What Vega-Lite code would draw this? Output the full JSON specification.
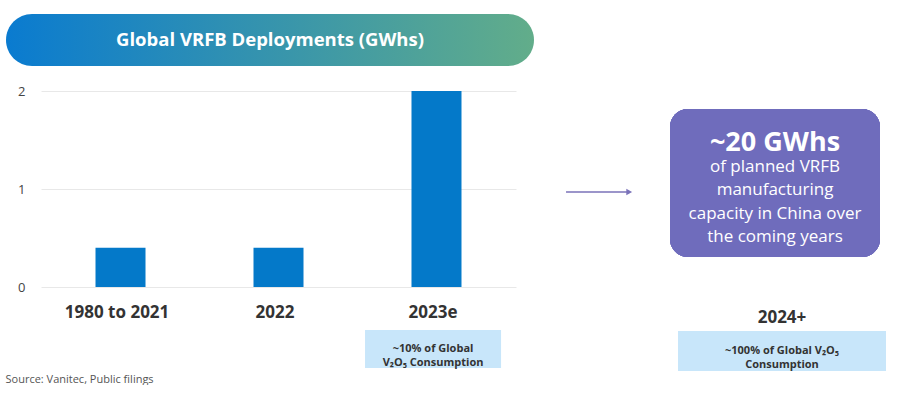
{
  "$schema": "https://vega.github.io/schema/vega-lite/v6.json",
  "padding": {"left": 5, "top": 14, "right": 0, "bottom": 0},
  "background": "white",
  "config": {"view": {"stroke": null}, "font": "Open Sans"},
  "title": {"text": "Source: Vanitec, Public filings", "orient": "bottom", "anchor": "start", "fontSize": 11, "fontWeight": "normal", "color": "#555555", "offset": 3},
  "spacing": 19,
  "vconcat": [
    {
      "width": 528,
      "height": 52,
      "data": {"values": [{"label": "Global VRFB Deployments (GWhs)"}]},
      "layer": [
        {
          "mark": {"type": "rect", "cornerRadius": 26, "color": {"gradient": "linear", "x1": 0, "y1": 0, "x2": 1, "y2": 0, "stops": [{"offset": 0, "color": "#0a7bd0"}, {"offset": 1, "color": "#62ad8a"}]}},
          "encoding": {}
        },
        {
          "mark": {"type": "text", "color": "white", "fontSize": 18.5, "fontWeight": "bold"},
          "encoding": {"text": {"field": "label"}}
        }
      ]
    },
    {
      "spacing": 0,
      "hconcat": [
        {
          "width": 1,
          "height": 1,
          "data": {"values": [{"kind": "spacer"}]},
          "mark": {"type": "rule", "opacity": 0},
          "encoding": {}
        },
        {
          "spacing": 9,
          "vconcat": [
            {
              "width": 475,
              "height": 196,
              "data": {"values": [
                {"period": "1980 to 2021", "gwh": 0.4},
                {"period": "2022", "gwh": 0.4},
                {"period": "2023e", "gwh": 2.0}
              ]},
              "mark": {"type": "bar", "color": "#0479c9"},
              "encoding": {
                "x": {"field": "period", "type": "nominal", "sort": null, "scale": {"paddingInner": 0.6835, "paddingOuter": 0.345}, "axis": null},
                "y": {"field": "gwh", "type": "quantitative", "scale": {"domain": [0, 2], "nice": false}, "axis": {"title": null, "tickCount": 2, "format": ".0f", "domain": false, "ticks": false, "labelPadding": 16, "minExtent": 34, "gridColor": "#e8e8e8", "labelFontSize": 13, "labelColor": "#444444"}}
              }
            },
            {
              "width": 475,
              "height": 38,
              "data": {"values": [{"period": "2023e", "note": "~10% of Global\nV₂O₅ Consumption"}]},
              "encoding": {
                "x": {"field": "period", "type": "nominal", "scale": {"domain": ["1980 to 2021", "2022", "2023e"], "paddingInner": 0.139, "paddingOuter": 0.0727, "align": 0.35}, "axis": {"orient": "top", "title": null, "domain": false, "ticks": false, "labelPadding": 9, "labelFontSize": 17, "labelFontWeight": "bold", "labelColor": "#333333", "labelAngle": 0}}
              },
              "layer": [
                {"mark": {"type": "rect", "color": "#c8e6fa"}},
                {"mark": {"type": "text", "lineBreak": "\n", "fontSize": 11, "fontWeight": "bold", "color": "#333333", "lineHeight": 14}, "encoding": {"text": {"field": "note"}}}
              ]
            }
          ]
        },
        {
          "width": 153,
          "height": 202,
          "data": {"values": [{"kind": "arrow"}]},
          "layer": [
            {
              "mark": {"type": "rule", "color": "#7a72b9", "strokeWidth": 1.5},
              "encoding": {
                "x": {"datum": 0.327, "type": "quantitative", "scale": {"domain": [0, 1]}, "axis": null},
                "x2": {"datum": 0.74},
                "y": {"datum": 0, "type": "quantitative", "scale": {"domain": [-1, 1]}, "axis": null}
              }
            },
            {
              "mark": {"type": "point", "shape": "triangle-right", "filled": true, "color": "#7a72b9", "size": 45, "opacity": 1},
              "encoding": {
                "x": {"datum": 0.74, "type": "quantitative"},
                "y": {"datum": 0, "type": "quantitative"}
              }
            }
          ]
        },
        {
          "spacing": 0,
          "vconcat": [
            {
              "width": 216,
              "height": 18,
              "data": {"values": [{"kind": "spacer"}]},
              "mark": {"type": "rule", "opacity": 0},
              "encoding": {}
            },
            {
              "width": 210,
              "height": 148,
              "data": {"values": [
                {"line": "~20 GWhs", "kind": "head"},
                {"line": "of planned VRFB", "kind": "body"},
                {"line": "manufacturing", "kind": "body"},
                {"line": "capacity in China over", "kind": "body"},
                {"line": "the coming years", "kind": "body"}
              ]},
              "encoding": {
                "y": {"field": "line", "type": "nominal", "scale": {"type": "band", "domain": ["~20 GWhs", "of planned VRFB", "manufacturing", "capacity in China over", "the coming years"], "paddingInner": 0, "paddingOuter": 0.649, "align": 0.73}, "axis": null}
              },
              "layer": [
                {"mark": {"type": "rect", "cornerRadius": 18, "color": "#6f6cbc"}, "encoding": {"y": null}},
                {
                  "transform": [{"filter": "datum.kind === 'head'"}],
                  "mark": {"type": "text", "color": "white", "fontSize": 27, "fontWeight": "bold"},
                  "encoding": {"text": {"field": "line"}}
                },
                {
                  "transform": [{"filter": "datum.kind === 'body'"}],
                  "mark": {"type": "text", "color": "white", "fontSize": 17},
                  "encoding": {"text": {"field": "line"}}
                }
              ]
            },
            {
              "width": 216,
              "height": 50,
              "data": {"values": [{"kind": "spacer"}]},
              "mark": {"type": "rule", "opacity": 0},
              "encoding": {}
            },
            {
              "width": 216,
              "height": 40,
              "data": {"values": [{"period": "2024+", "note": "~100% of Global V₂O₅\nConsumption"}]},
              "encoding": {
                "x": {"field": "period", "type": "nominal", "scale": {"paddingInner": 0, "paddingOuter": 0.01923, "align": 1}, "axis": {"orient": "top", "title": null, "domain": false, "ticks": false, "labelPadding": 5, "labelFontSize": 17, "labelFontWeight": "bold", "labelColor": "#333333", "labelAngle": 0}}
              },
              "layer": [
                {"mark": {"type": "rect", "color": "#c8e6fa"}},
                {"mark": {"type": "text", "lineBreak": "\n", "fontSize": 11, "fontWeight": "bold", "color": "#333333", "lineHeight": 14}, "encoding": {"text": {"field": "note"}}}
              ]
            }
          ]
        }
      ]
    }
  ]
}
